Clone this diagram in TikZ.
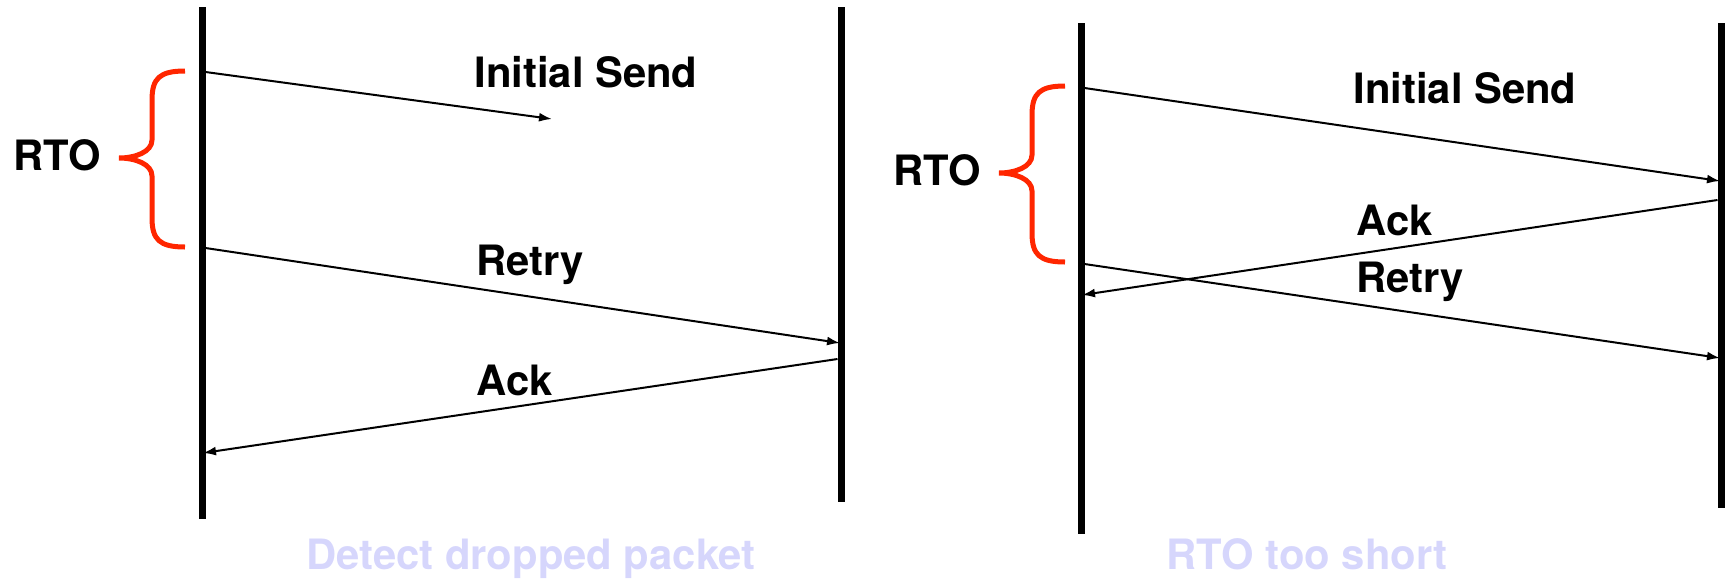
\documentclass[tikz,border=0pt]{standalone}
\usepackage{fontspec}
\setmainfont{TeX Gyre Heros}
\usetikzlibrary{arrows.meta}
\definecolor{bracered}{RGB}{255,38,0}
\definecolor{titleblue}{RGB}{214,214,252}
\tikzset{
  lifeline/.style={line width=7pt},
  msg/.style={line width=2pt, -{Latex[length=13pt,width=9pt]}},
  rtobrace/.style={line width=5pt, bracered},
  lbl/.style={font=\fontsize{41.8}{48}\selectfont\bfseries, anchor=base, inner sep=0pt},
  titletext/.style={lbl, titleblue},
}
\begin{document}
\begin{tikzpicture}[x=1pt, y=-1pt]
  \useasboundingbox (0,0) rectangle (1725,579);
  % lifelines
  \coordinate (aTop) at (202,7);   \coordinate (aBot) at (202,519);
  \coordinate (bTop) at (841,7);   \coordinate (bBot) at (841,502);
  \coordinate (cTop) at (1081,23); \coordinate (cBot) at (1081,534);
  \coordinate (dTop) at (1721,23); \coordinate (dBot) at (1721,508);
  \draw[lifeline] (aTop) -- (aBot);
  \draw[lifeline] (bTop) -- (bBot);
  \draw[lifeline] (cTop) -- (cBot);
  \draw[lifeline] (dTop) -- (dBot);
  % left: detect dropped packet
  \coordinate (sendL0) at (205.5,72);   \coordinate (sendL1) at (552,119);
  \coordinate (retryL0) at (205.5,248); \coordinate (retryL1) at (840,343);
  \coordinate (ackL0) at (837.5,359);   \coordinate (ackL1) at (203,453);
  \draw[msg] (sendL0) -- (sendL1);
  \draw[msg] (retryL0) -- (retryL1);
  \draw[msg] (ackL0) -- (ackL1);
  \node[lbl] (sendLlbl) at (586,87) {Initial Send};
  \node[lbl] (retryLlbl) at (530,275) {Retry};
  \node[lbl] (ackLlbl) at (515,395) {Ack};
  % right: rto too short
  \coordinate (sendR0) at (1084.5,88);   \coordinate (sendR1) at (1720,181);
  \coordinate (ackR0) at (1717.5,200);   \coordinate (ackR1) at (1082,295);
  \coordinate (retryR0) at (1084.5,264); \coordinate (retryR1) at (1720,358);
  \draw[msg] (sendR0) -- (sendR1);
  \draw[msg] (ackR0) -- (ackR1);
  \draw[msg] (retryR0) -- (retryR1);
  \node[lbl] (sendRlbl) at (1465,103) {Initial Send};
  \node[lbl] (ackRlbl) at (1395,235) {Ack};
  \node[lbl] (retryRlbl) at (1410,292) {Retry};
  % braces
  \foreach \dx/\dy/\nm in {0/0/rtoL, 880/15/rtoR}{
    \begin{scope}[shift={(\dx,\dy)}]
      \draw[rtobrace] (185,71) .. controls (160,71) and (152,78) .. (152,100)
        -- (152,140) .. controls (152,152) and (135,158) .. (119,158)
        .. controls (135,158) and (152,164) .. (152,176)
        -- (152,218) .. controls (152,240) and (160,247) .. (185,247);
      \node[lbl] (\nm) at (57,170) {RTO};
    \end{scope}
  }
  % titles
  \node[titletext] (titleL) at (531,569) {Detect dropped packet};
  \node[titletext] (titleR) at (1307,569) {RTO too short};
\end{tikzpicture}
\end{document}
